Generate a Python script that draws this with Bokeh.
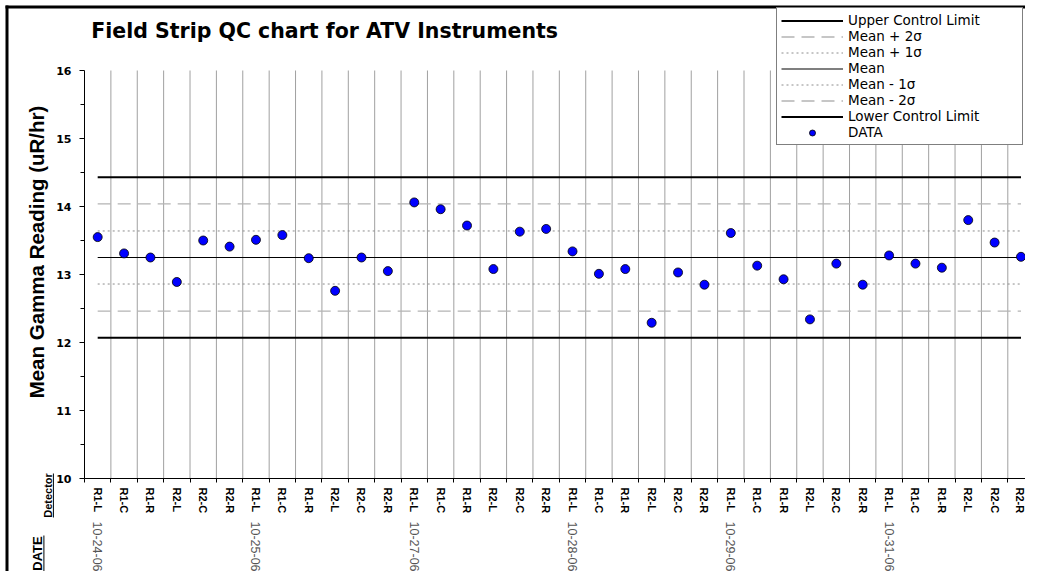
import math
from bokeh.plotting import figure
from bokeh.models import (FixedTicker, LinearAxis, Legend, LegendItem, Label,
                          BoxAnnotation, Range1d)
from bokeh.embed import file_html
from bokeh.resources import INLINE

# ---------------- data ----------------
title_text = "Field Strip QC chart for ATV Instruments"
y_title = "Mean Gamma Reading (uR/hr)"
dates = ["10-24-06", "10-25-06", "10-27-06", "10-28-06", "10-29-06", "10-31-06"]
detectors_per_day = ["R1-L", "R1-C", "R1-R", "R2-L", "R2-C", "R2-R"]
readings = [13.55, 13.31, 13.25, 12.89, 13.50, 13.41,
            13.51, 13.58, 13.24, 12.76, 13.25, 13.05,
            14.06, 13.96, 13.72, 13.08, 13.63, 13.67,
            13.34, 13.01, 13.08, 12.29, 13.03, 12.85,
            13.61, 13.13, 12.93, 12.34, 13.16, 12.85,
            13.28, 13.16, 13.10, 13.80, 13.47, 13.26]
limit_names = ["Upper Control Limit", "Mean + 2σ", "Mean + 1σ", "Mean",
               "Mean - 1σ", "Mean - 2σ", "Lower Control Limit"]
limit_values = [14.43, 14.04, 13.64, 13.25, 12.86, 12.46, 12.07]
y_ticks = [10, 11, 12, 13, 14, 15, 16]
data_name = "DATA"
header_date = "DATE"
header_detector = "Detector"

# category layout (derived from the lists above)
detectors = [d for _ in dates for d in detectors_per_day]
n_cat = len(detectors)
centers = [i + 0.5 for i in range(n_cat)]
boundaries = list(range(1, n_cat))
date_positions = [centers[i * len(detectors_per_day)] for i in range(len(dates))]
y_minor = [t + 0.5 for t in y_ticks[:-1]]

# ---------------- geometry / styles ----------------
W, H = 1025, 571
ORIGIN_X = 84.0        # pixel of category 0 / y axis
CAT_W = 26.38          # pixels per category
Y_TOP_PX = 70.0        # pixel of top tick value
PX_PER_UNIT = 68.0

x_start = -ORIGIN_X / CAT_W
x_end = (W - ORIGIN_X) / CAT_W
y_end = y_ticks[-1] + Y_TOP_PX / PX_PER_UNIT
y_start = y_ticks[-1] - (H - Y_TOP_PX) / PX_PER_UNIT

limit_styles = [
    dict(line_color="black", line_width=2, line_dash="solid"),
    dict(line_color="#b4b4b4", line_width=1.3, line_dash="13 7"),
    dict(line_color="#8c8c8c", line_width=1, line_dash="2 3"),
    dict(line_color="black", line_width=1.2, line_dash="solid"),
    dict(line_color="#8c8c8c", line_width=1, line_dash="2 3"),
    dict(line_color="#b4b4b4", line_width=1.3, line_dash="13 7"),
    dict(line_color="black", line_width=2, line_dash="solid"),
]

p = figure(width=W, height=H, x_range=Range1d(x_start, x_end),
           y_range=Range1d(y_start, y_end),
           output_backend="svg", toolbar_location=None,
           min_border_left=0, min_border_right=0, min_border_top=0,
           min_border_bottom=0, background_fill_color="white",
           border_fill_color="white", outline_line_color=None)
p.xgrid.visible = False
p.ygrid.visible = False

# y axis, drawn at category origin
yax = p.yaxis[0]
yax.fixed_location = 0
yax.bounds = (y_ticks[0], y_ticks[-1])
yax.ticker = FixedTicker(ticks=y_ticks, minor_ticks=y_minor)
yax.axis_line_color = "black"
yax.major_tick_out = 5
yax.major_tick_in = 0
yax.minor_tick_out = 4
yax.minor_tick_in = 0
yax.major_tick_line_color = "black"
yax.minor_tick_line_color = "black"
yax.major_label_text_font = "DejaVu Sans"
yax.major_label_text_font_style = "bold"
yax.major_label_text_font_size = "11px"
yax.major_label_text_color = "black"
yax.major_label_standoff = 8

# x axis (detectors), drawn at the bottom value
xax = p.xaxis[0]
xax.fixed_location = y_ticks[0]
xax.bounds = (0, n_cat)
xax.ticker = FixedTicker(ticks=centers, minor_ticks=list(range(0, n_cat + 1)))
xax.major_label_overrides = {c: d for c, d in zip(centers, detectors)}
xax.major_label_orientation = "vertical"
xax.axis_line_color = "black"
xax.major_tick_line_color = None
xax.major_tick_out = 0
xax.major_tick_in = 0
xax.minor_tick_out = 4
xax.minor_tick_in = 0
xax.minor_tick_line_color = "black"
xax.major_label_standoff = 5
xax.major_label_text_font = "Liberation Sans"
xax.major_label_text_font_style = "bold"
xax.major_label_text_font_size = "11px"
xax.major_label_text_color = "black"

# second x axis (dates)
dax = LinearAxis(fixed_location=y_ticks[0],
                 ticker=FixedTicker(ticks=date_positions, minor_ticks=[]),
                 major_label_overrides={c: d for c, d in zip(date_positions, dates)},
                 major_label_orientation="vertical",
                 axis_line_color=None, major_tick_line_color=None,
                 minor_tick_line_color=None, major_tick_out=0, minor_tick_out=0,
                 major_label_standoff=43,
                 major_label_text_font="Liberation Sans",
                 major_label_text_font_size="12.5px",
                 major_label_text_color="#555555")
p.add_layout(dax, "below")

# vertical grid lines between categories
p.segment(x0=boundaries, y0=[y_ticks[0]] * len(boundaries),
          x1=boundaries, y1=[y_ticks[-1]] * len(boundaries),
          line_color="#a0a0a0", line_width=1)

# control lines
renderers = []
for val, st in zip(limit_values, limit_styles):
    r = p.line(x=[centers[0], centers[-1]], y=[val, val], **st)
    renderers.append(r)

pts = p.scatter(x=centers, y=readings, size=9, marker="circle",
                fill_color="#0000ff", line_color="black", line_width=0.8)

items = [LegendItem(label=n, renderers=[r]) for n, r in zip(limit_names, renderers)]
items.append(LegendItem(label=data_name, renderers=[pts]))
legend = Legend(items=items, location=(776, H - 145), padding=4, spacing=0,
                glyph_width=62, glyph_height=15, label_height=15, label_width=170,
                label_standoff=5, border_line_color="black", border_line_width=1,
                background_fill_color="white", background_fill_alpha=1,
                label_text_font="DejaVu Sans", label_text_font_size="13.5px",
                label_text_color="black", margin=0)
p.add_layout(legend)


def ry(py):
    return H - py


p.add_layout(Label(x=90.7, y=ry(30.7), x_units="screen", y_units="screen",
                   text=title_text, text_font="DejaVu Sans", text_font_style="bold",
                   text_font_size="20.5px", text_align="left",
                   text_baseline="alphabetic", text_color="black"))
p.add_layout(Label(x=36, y=ry(251.5), x_units="screen", y_units="screen",
                   text=y_title, angle=math.pi / 2, text_font="Liberation Sans",
                   text_font_style="bold", text_font_size="20.5px",
                   text_align="center", text_baseline="middle", text_color="black"))
p.add_layout(Label(x=37.3, y=ry(553), x_units="screen", y_units="screen",
                   text=header_date, angle=math.pi / 2, text_font="Liberation Sans",
                   text_font_style="bold", text_font_size="13px",
                   text_align="center", text_baseline="middle", text_color="black"))
p.add_layout(Label(x=47.3, y=ry(495), x_units="screen", y_units="screen",
                   text=header_detector, angle=math.pi / 2, text_font="Liberation Sans",
                   text_font_style="bold", text_font_size="11px",
                   text_align="center", text_baseline="middle", text_color="black"))


def box(l, r, t, b):
    return BoxAnnotation(left=l, right=r, top=ry(t), bottom=ry(b),
                         left_units="screen", right_units="screen",
                         top_units="screen", bottom_units="screen",
                         fill_color="black", fill_alpha=1, line_color=None)


# underlines of the headers
p.add_layout(box(42.9, 43.9, 535, 571))
p.add_layout(box(52.4, 53.4, 473, 517))
# outer chart border (top and left)
p.add_layout(box(5, W, 5, 8))
p.add_layout(box(5, 8, 5, H))

open("out.html", "w").write(file_html(p, INLINE))
